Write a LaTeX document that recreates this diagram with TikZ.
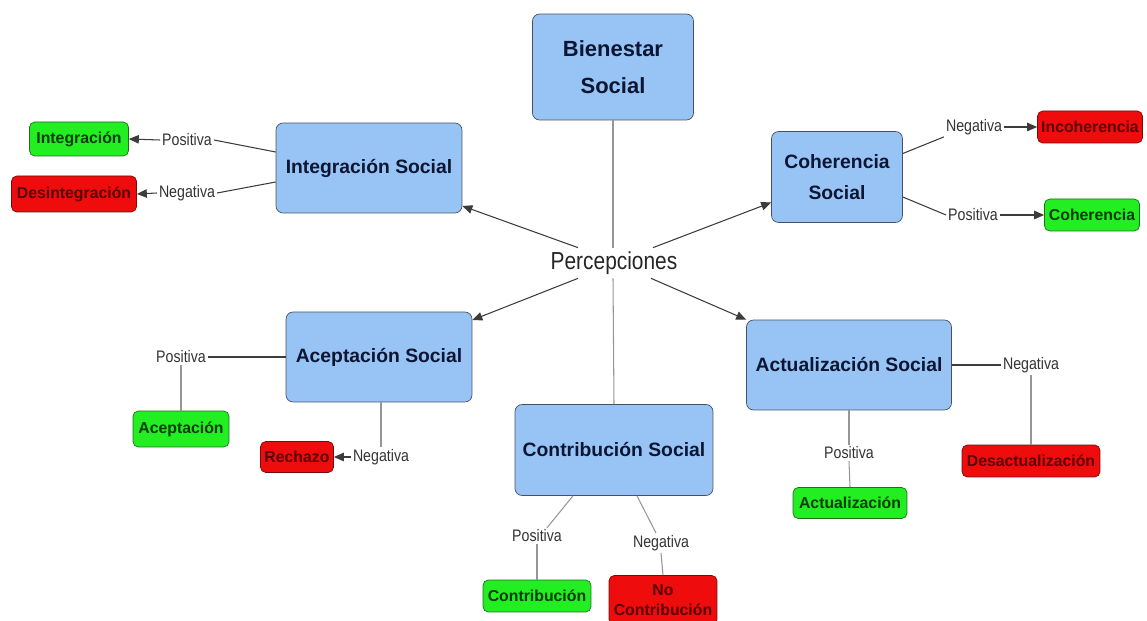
\documentclass[tikz,border=0pt]{standalone}
\usepackage{fontspec}
\setmainfont{Liberation Sans}
\newfontfamily\condfont[FakeStretch=0.85]{Liberation Sans}
\usetikzlibrary{arrows.meta}
\definecolor{boxblue}{RGB}{152,196,245}
\definecolor{boxedge}{RGB}{70,80,100}
\definecolor{boxtext}{RGB}{12,22,50}
\definecolor{posfill}{RGB}{34,238,34}
\definecolor{posedge}{RGB}{30,110,30}
\definecolor{postext}{RGB}{0,60,0}
\definecolor{negfill}{RGB}{238,12,12}
\definecolor{negedge}{RGB}{120,10,10}
\definecolor{negtext}{RGB}{90,0,0}
\definecolor{linedark}{RGB}{60,60,60}
\definecolor{linegray}{RGB}{150,150,150}
\begin{document}
\begin{tikzpicture}[x=0.02cm,y=-0.02cm,
  mainbox/.style={draw=boxedge,fill=boxblue,rounded corners=4pt,inner sep=0pt,align=center,
    text=boxtext,font=\bfseries\fontsize{11}{17.5}\selectfont},
  posbox/.style={draw=posedge,fill=posfill,rounded corners=3pt,inner sep=0pt,align=center,
    text=postext,font=\bfseries\fontsize{9}{11.5}\selectfont},
  negbox/.style={draw=negedge,fill=negfill,rounded corners=3pt,inner sep=0pt,align=center,
    text=negtext,font=\bfseries\fontsize{9}{11.5}\selectfont},
  lbl/.style={inner sep=1pt,text=black!80,font=\condfont\fontsize{9.5}{11}\selectfont},
  link/.style={draw=linedark,line width=0.6pt},
  vlink/.style={draw=linegray,line width=0.6pt},
  arr/.style={link,-{Triangle[length=2mm,width=1.7mm]}}]
\useasboundingbox (0,0) rectangle (1147,621);

% centre
\node[mainbox,minimum width=3.22cm,minimum height=2.12cm,font=\bfseries\fontsize{12.5}{21}\selectfont] (bien) at (613,67) {Bienestar\\Social};
\node[inner sep=1pt,minimum height=0.6cm,text=black!85,font=\condfont\fontsize{14}{16}\selectfont] (perc) at (614,263) {Percepciones};

\node[mainbox,minimum width=3.72cm,minimum height=1.8cm] (ints) at (369,168) {Integración Social};
\node[mainbox,minimum width=2.62cm,minimum height=1.82cm] (coh) at (837,177) {Coherencia\\Social};
\node[mainbox,minimum width=3.72cm,minimum height=1.8cm] (acep) at (379,357) {Aceptación Social};
\node[mainbox,minimum width=4.1cm,minimum height=1.8cm] (actu) at (849,365) {Actualización Social};
\node[mainbox,minimum width=3.96cm,minimum height=1.82cm] (contr) at (614,450) {Contribución Social};

% leaves
\node[posbox,minimum width=1.98cm,minimum height=0.68cm] (ileaf) at (79,139) {Integración};
\node[negbox,minimum width=2.5cm,minimum height=0.72cm] (dleaf) at (74,194) {Desintegración};
\node[negbox,minimum width=2.1cm,minimum height=0.64cm] (incoh) at (1090,127) {Incoherencia};
\node[posbox,minimum width=1.9cm,minimum height=0.64cm] (cohl) at (1092,215) {Coherencia};
\node[posbox,minimum width=1.92cm,minimum height=0.72cm] (aleaf) at (181,429) {Aceptación};
\node[negbox,minimum width=1.46cm,minimum height=0.62cm] (rech) at (297,457) {Rechazo};
\node[negbox,minimum width=2.76cm,minimum height=0.64cm] (desac) at (1031,461) {Desactualización};
\node[posbox,minimum width=2.28cm,minimum height=0.62cm] (actl) at (850,503) {Actualización};
\node[posbox,minimum width=2.16cm,minimum height=0.64cm] (kleaf) at (537,596) {Contribución};
\node[negbox,minimum width=2.16cm,minimum height=0.98cm] (nokl) at (663,600) {No\\Contribución};

% labels
\node[lbl] (ipos) at (187,140) {Positiva};
\node[lbl] (ineg) at (187,193) {Negativa};
\node[lbl] (cneg) at (974,127) {Negativa};
\node[lbl] (cpos) at (973,215) {Positiva};
\node[lbl] (apos) at (181,357) {Positiva};
\node[lbl] (aneg) at (381,457) {Negativa};
\node[lbl] (tneg) at (1031,365) {Negativa};
\node[lbl] (tpos) at (849,453) {Positiva};
\node[lbl] (kpos) at (537,536) {Positiva};
\node[lbl] (kneg) at (661,543) {Negativa};

% connectors
\draw[vlink] (bien.south) -- (bien.south |- perc.north);
\draw[vlink] (bien.south |- perc.south) -- (contr.north);
\draw[arr] ([xshift=-0.72cm]perc.north) -- ([yshift=-0.76cm]ints.east);
\draw[arr] ([xshift=0.78cm]perc.north) -- ([yshift=-0.51cm]coh.west);
\draw[arr] ([xshift=-0.72cm]perc.south) -- ([yshift=0.74cm]acep.east);
\draw[arr] ([xshift=0.74cm]perc.south) -- (actu.north west);

\draw[link] ([yshift=0.32cm]ints.west) -- (ipos.east);
\draw[arr] (ipos.west) -- (ileaf.east);
\draw[link] ([yshift=-0.28cm]ints.west) -- (ineg.east);
\draw[arr] (ineg.west) -- (dleaf.east);

\draw[link] ([yshift=0.47cm]coh.east) -- (cneg.south west);
\draw[arr] (cneg.east) -- (incoh.west);
\draw[link] ([yshift=-0.4cm]coh.east) -- (cpos.west);
\draw[arr] (cpos.east) -- (cohl.west);

\draw[link] (acep.west) -- (apos.east);
\draw[vlink] (apos.south) -- (aleaf.north);
\draw[vlink] (acep.south -| aneg.north) -- (aneg.north);
\draw[arr] (aneg.west) -- (rech.east);

\draw[link] (actu.east) -- (tneg.west);
\draw[vlink] (tneg.south) -- (desac.north);
\draw[vlink] (actu.south) -- (tpos.north);
\draw[vlink] (tpos.south) -- (actl.north);

\draw[vlink] ([xshift=-0.82cm]contr.south) -- ([xshift=0.2cm]kpos.north);
\draw[vlink] (kpos.south) -- (kleaf.north);
\draw[vlink] ([xshift=0.46cm]contr.south) -- ([xshift=-0.1cm]kneg.north);
\draw[vlink] (kneg.south) -- (nokl.north);
\end{tikzpicture}
\end{document}
